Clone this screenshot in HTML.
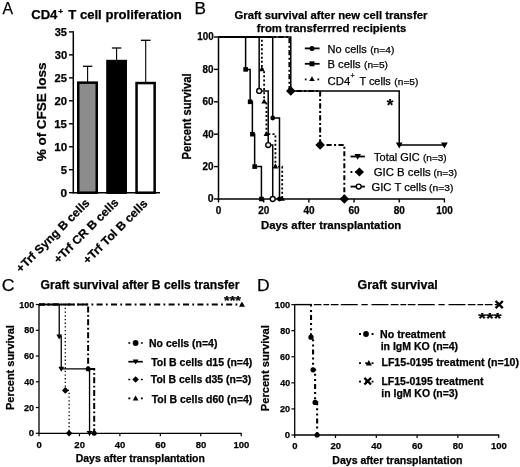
<!DOCTYPE html>
<html><head><meta charset="utf-8"><style>
html,body{margin:0;padding:0;background:#fff;}
svg{display:block;font-family:"Liberation Sans", sans-serif;will-change:transform;}
text{stroke:#000;stroke-width:0.25px;}
</style></head><body>
<svg width="520" height="467" viewBox="0 0 520 467">
<rect width="520" height="467" fill="#fff"/>
<text x="2.52" y="13.95" font-size="17" font-weight="normal" textLength="10.51" lengthAdjust="spacingAndGlyphs">A</text>
<text x="31.18" y="19.30" font-size="12" font-weight="bold" textLength="26.20" lengthAdjust="spacingAndGlyphs">CD4</text>
<text x="58.27" y="13.60" font-size="8" font-weight="bold" textLength="4.86" lengthAdjust="spacingAndGlyphs">+</text>
<text x="68.27" y="19.30" font-size="12" font-weight="bold" textLength="113.56" lengthAdjust="spacingAndGlyphs">T cell proliferation</text>
<line x1="73.30" y1="31.20" x2="73.30" y2="193.40" stroke="#000" stroke-width="1.5" stroke-linecap="butt"/>
<line x1="72.60" y1="192.70" x2="160.00" y2="192.70" stroke="#000" stroke-width="1.5" stroke-linecap="butt"/>
<line x1="69.00" y1="31.90" x2="73.30" y2="31.90" stroke="#000" stroke-width="1.4" stroke-linecap="butt"/>
<text x="54.72" y="35.75" font-size="11" font-weight="bold" textLength="12.28" lengthAdjust="spacingAndGlyphs">35</text>
<line x1="69.00" y1="54.87" x2="73.30" y2="54.87" stroke="#000" stroke-width="1.4" stroke-linecap="butt"/>
<text x="54.72" y="58.72" font-size="11" font-weight="bold" textLength="12.45" lengthAdjust="spacingAndGlyphs">30</text>
<line x1="69.00" y1="77.84" x2="73.30" y2="77.84" stroke="#000" stroke-width="1.4" stroke-linecap="butt"/>
<text x="54.61" y="81.69" font-size="11" font-weight="bold" textLength="12.39" lengthAdjust="spacingAndGlyphs">25</text>
<line x1="69.00" y1="100.81" x2="73.30" y2="100.81" stroke="#000" stroke-width="1.4" stroke-linecap="butt"/>
<text x="54.60" y="104.66" font-size="11" font-weight="bold" textLength="12.57" lengthAdjust="spacingAndGlyphs">20</text>
<line x1="69.00" y1="123.78" x2="73.30" y2="123.78" stroke="#000" stroke-width="1.4" stroke-linecap="butt"/>
<text x="54.25" y="127.63" font-size="11" font-weight="bold" textLength="12.76" lengthAdjust="spacingAndGlyphs">15</text>
<line x1="69.00" y1="146.75" x2="73.30" y2="146.75" stroke="#000" stroke-width="1.4" stroke-linecap="butt"/>
<text x="54.24" y="150.60" font-size="11" font-weight="bold" textLength="12.95" lengthAdjust="spacingAndGlyphs">10</text>
<line x1="69.00" y1="169.72" x2="73.30" y2="169.72" stroke="#000" stroke-width="1.4" stroke-linecap="butt"/>
<text x="60.76" y="173.57" font-size="11" font-weight="bold" textLength="6.23" lengthAdjust="spacingAndGlyphs">5</text>
<line x1="69.00" y1="192.69" x2="73.30" y2="192.69" stroke="#000" stroke-width="1.4" stroke-linecap="butt"/>
<text x="60.63" y="196.54" font-size="11" font-weight="bold" textLength="6.56" lengthAdjust="spacingAndGlyphs">0</text>
<line x1="87.60" y1="66.30" x2="87.60" y2="82.00" stroke="#000" stroke-width="1.1" stroke-linecap="butt"/>
<line x1="82.90" y1="66.30" x2="92.30" y2="66.30" stroke="#000" stroke-width="1.3" stroke-linecap="butt"/>
<line x1="116.60" y1="48.00" x2="116.60" y2="60.00" stroke="#000" stroke-width="1.1" stroke-linecap="butt"/>
<line x1="111.90" y1="48.00" x2="121.30" y2="48.00" stroke="#000" stroke-width="1.3" stroke-linecap="butt"/>
<line x1="145.70" y1="40.30" x2="145.70" y2="82.00" stroke="#000" stroke-width="1.1" stroke-linecap="butt"/>
<line x1="140.90" y1="40.30" x2="150.50" y2="40.30" stroke="#000" stroke-width="1.3" stroke-linecap="butt"/>
<rect x="78.25" y="82.65" width="18.50" height="110.05" fill="#8c8c8c" stroke="#000" stroke-width="2.5"/>
<rect x="107.45" y="61.05" width="18.30" height="131.65" fill="#000" stroke="#000" stroke-width="2.5"/>
<rect x="136.55" y="83.05" width="18.10" height="109.65" fill="#fff" stroke="#000" stroke-width="2.5"/>
<text transform="translate(46.00,161.00) rotate(-90)" x="-0.34" y="0" font-size="13" font-weight="bold" textLength="98.87" lengthAdjust="spacingAndGlyphs">% of CFSE loss</text>
<text transform="translate(21.20,272.80) rotate(-45)" x="-0.49" y="0" font-size="11.8" font-weight="bold" textLength="98.28" lengthAdjust="spacingAndGlyphs">+Trf Syng B cells</text>
<text transform="translate(58.80,263.70) rotate(-45)" x="-0.49" y="0" font-size="11.8" font-weight="bold" textLength="86.12" lengthAdjust="spacingAndGlyphs">+Trf CR B cells</text>
<text transform="translate(87.97,264.53) rotate(-45)" x="-0.49" y="0" font-size="11.8" font-weight="bold" textLength="85.89" lengthAdjust="spacingAndGlyphs">+Trf Tol B cells</text>
<text x="194.42" y="13.80" font-size="17" font-weight="normal" textLength="11.47" lengthAdjust="spacingAndGlyphs">B</text>
<text x="234.55" y="19.30" font-size="11" font-weight="bold" textLength="192.80" lengthAdjust="spacingAndGlyphs">Graft survival after new cell transfer</text>
<text x="256.73" y="32.00" font-size="11" font-weight="bold" textLength="149.54" lengthAdjust="spacingAndGlyphs">from transferrred recipients</text>
<line x1="218.50" y1="36.30" x2="218.50" y2="199.70" stroke="#000" stroke-width="1.5" stroke-linecap="butt"/>
<line x1="217.80" y1="199.00" x2="444.90" y2="199.00" stroke="#000" stroke-width="1.5" stroke-linecap="butt"/>
<line x1="214.00" y1="199.00" x2="218.50" y2="199.00" stroke="#000" stroke-width="1.4" stroke-linecap="butt"/>
<text x="207.78" y="202.40" font-size="10" font-weight="bold" textLength="5.85" lengthAdjust="spacingAndGlyphs">0</text>
<line x1="214.00" y1="166.60" x2="218.50" y2="166.60" stroke="#000" stroke-width="1.4" stroke-linecap="butt"/>
<text x="202.55" y="170.00" font-size="10" font-weight="bold" textLength="11.07" lengthAdjust="spacingAndGlyphs">20</text>
<line x1="214.00" y1="134.20" x2="218.50" y2="134.20" stroke="#000" stroke-width="1.4" stroke-linecap="butt"/>
<text x="202.75" y="137.60" font-size="10" font-weight="bold" textLength="10.86" lengthAdjust="spacingAndGlyphs">40</text>
<line x1="214.00" y1="101.80" x2="218.50" y2="101.80" stroke="#000" stroke-width="1.4" stroke-linecap="butt"/>
<text x="202.55" y="105.20" font-size="10" font-weight="bold" textLength="11.07" lengthAdjust="spacingAndGlyphs">60</text>
<line x1="214.00" y1="69.40" x2="218.50" y2="69.40" stroke="#000" stroke-width="1.4" stroke-linecap="butt"/>
<text x="202.60" y="72.80" font-size="10" font-weight="bold" textLength="11.02" lengthAdjust="spacingAndGlyphs">80</text>
<line x1="214.00" y1="37.00" x2="218.50" y2="37.00" stroke="#000" stroke-width="1.4" stroke-linecap="butt"/>
<text x="197.26" y="40.40" font-size="10" font-weight="bold" textLength="16.36" lengthAdjust="spacingAndGlyphs">100</text>
<line x1="218.50" y1="199.00" x2="218.50" y2="202.50" stroke="#000" stroke-width="1.4" stroke-linecap="butt"/>
<text x="218.60" y="213.70" font-size="10" font-weight="bold" text-anchor="middle">0</text>
<line x1="263.68" y1="199.00" x2="263.68" y2="202.50" stroke="#000" stroke-width="1.4" stroke-linecap="butt"/>
<text x="263.78" y="213.70" font-size="10" font-weight="bold" text-anchor="middle">20</text>
<line x1="308.86" y1="199.00" x2="308.86" y2="202.50" stroke="#000" stroke-width="1.4" stroke-linecap="butt"/>
<text x="308.96" y="213.70" font-size="10" font-weight="bold" text-anchor="middle">40</text>
<line x1="354.04" y1="199.00" x2="354.04" y2="202.50" stroke="#000" stroke-width="1.4" stroke-linecap="butt"/>
<text x="354.14" y="213.70" font-size="10" font-weight="bold" text-anchor="middle">60</text>
<line x1="399.22" y1="199.00" x2="399.22" y2="202.50" stroke="#000" stroke-width="1.4" stroke-linecap="butt"/>
<text x="399.32" y="213.70" font-size="10" font-weight="bold" text-anchor="middle">80</text>
<line x1="444.40" y1="199.00" x2="444.40" y2="202.50" stroke="#000" stroke-width="1.4" stroke-linecap="butt"/>
<text x="444.50" y="213.70" font-size="10" font-weight="bold" text-anchor="middle">100</text>
<text x="260.96" y="229.10" font-size="11" font-weight="bold" textLength="140.34" lengthAdjust="spacingAndGlyphs">Days after transplantation</text>
<text transform="translate(191.40,158.70) rotate(-90)" x="-0.72" y="0" font-size="12" font-weight="bold" textLength="86.02" lengthAdjust="spacingAndGlyphs">Percent survival</text>
<path d="M218.50,37.00H245.61V69.40H250.13V101.80H252.38V134.20H254.64V166.60H261.42V199.00" stroke="#000" stroke-width="1.5" fill="none" stroke-linecap="butt" stroke-linejoin="miter"/>
<rect x="243.31" y="67.10" width="4.60" height="4.60" fill="#000"/>
<rect x="247.83" y="99.50" width="4.60" height="4.60" fill="#000"/>
<rect x="250.08" y="131.90" width="4.60" height="4.60" fill="#000"/>
<rect x="252.34" y="164.30" width="4.60" height="4.60" fill="#000"/>
<rect x="259.12" y="196.70" width="4.60" height="4.60" fill="#000"/>
<path d="M218.50,37.00H259.16V90.95H268.20V145.05H272.72V199.00" stroke="#000" stroke-width="1.5" fill="none" stroke-linecap="butt" stroke-linejoin="miter"/>
<path d="M218.50,37.00H261.87V69.40H264.13V101.80H266.39V134.20H275.43V166.60H282.20V199.00" stroke="#000" stroke-width="1.8" fill="none" stroke-linecap="butt" stroke-linejoin="miter" stroke-dasharray="2,2.2"/>
<path d="M261.87,66.30L264.67,71.20L259.07,71.20Z" fill="#000"/>
<path d="M264.13,98.70L266.93,103.60L261.33,103.60Z" fill="#000"/>
<path d="M266.39,131.10L269.19,136.00L263.59,136.00Z" fill="#000"/>
<path d="M275.43,163.50L278.23,168.40L272.63,168.40Z" fill="#000"/>
<path d="M282.20,195.90L285.00,200.80L279.40,200.80Z" fill="#000"/>
<path d="M218.50,37.00H272.72V118.00H279.49V199.00" stroke="#000" stroke-width="1.5" fill="none" stroke-linecap="butt" stroke-linejoin="miter"/>
<circle cx="272.72" cy="118.00" r="2.40" fill="#000"/>
<circle cx="279.49" cy="199.00" r="2.40" fill="#000"/>
<path d="M218.50,37.00H290.79V90.95H399.22V145.05H444.40" stroke="#000" stroke-width="1.5" fill="none" stroke-linecap="butt" stroke-linejoin="miter"/>
<path d="M399.22,148.45L402.62,142.50L395.82,142.50Z" fill="#000"/>
<path d="M444.40,148.45L447.80,142.50L441.00,142.50Z" fill="#000"/>
<path d="M218.50,37.00H289.43V90.95H320.15V145.05H344.33V199.00" stroke="#000" stroke-width="2.0" fill="none" stroke-linecap="butt" stroke-linejoin="miter" stroke-dasharray="5.2,2.4,2,2.4"/>
<path d="M290.79,86.15L295.59,90.95L290.79,95.75L285.99,90.95Z" fill="#000"/>
<path d="M320.15,140.25L324.95,145.05L320.15,149.85L315.35,145.05Z" fill="#000"/>
<path d="M344.33,194.20L349.13,199.00L344.33,203.80L339.53,199.00Z" fill="#000"/>
<circle cx="259.16" cy="90.95" r="2.45" fill="#fff" stroke="#000" stroke-width="1.4"/>
<circle cx="268.20" cy="145.05" r="2.45" fill="#fff" stroke="#000" stroke-width="1.4"/>
<circle cx="272.72" cy="199.00" r="2.45" fill="#fff" stroke="#000" stroke-width="1.4"/>
<text x="390.00" y="110.50" font-size="17" font-weight="bold" text-anchor="middle">*</text>
<line x1="304.80" y1="48.40" x2="319.60" y2="48.40" stroke="#000" stroke-width="1.8" stroke-linecap="butt"/>
<circle cx="312.00" cy="48.40" r="2.50" fill="#000"/>
<text x="327.62" y="52.80" font-size="11" font-weight="normal" textLength="39.08" lengthAdjust="spacingAndGlyphs">No cells</text>
<text x="370.19" y="52.80" font-size="9.5" font-weight="normal" textLength="24.15" lengthAdjust="spacingAndGlyphs">(n=4)</text>
<line x1="304.80" y1="63.80" x2="319.60" y2="63.80" stroke="#000" stroke-width="1.8" stroke-linecap="butt"/>
<rect x="309.50" y="61.30" width="5.00" height="5.00" fill="#000"/>
<text x="327.50" y="67.90" font-size="11" font-weight="normal" textLength="32.99" lengthAdjust="spacingAndGlyphs">B cells</text>
<text x="364.09" y="67.90" font-size="9.5" font-weight="normal" textLength="23.84" lengthAdjust="spacingAndGlyphs">(n=5)</text>
<line x1="304.80" y1="79.30" x2="319.60" y2="79.30" stroke="#000" stroke-width="1.8" stroke-linecap="butt" stroke-dasharray="1.8,4.5"/>
<path d="M312.00,76.20L314.80,81.10L309.20,81.10Z" fill="#000"/>
<text x="327.53" y="84.70" font-size="11" font-weight="normal" textLength="22.71" lengthAdjust="spacingAndGlyphs">CD4</text>
<text x="350.45" y="78.20" font-size="7.5" font-weight="normal" textLength="4.09" lengthAdjust="spacingAndGlyphs">+</text>
<text x="359.38" y="84.70" font-size="11" font-weight="normal" textLength="31.41" lengthAdjust="spacingAndGlyphs">T cells</text>
<text x="394.39" y="84.70" font-size="9.5" font-weight="normal" textLength="23.94" lengthAdjust="spacingAndGlyphs">(n=5)</text>
<line x1="350.50" y1="156.50" x2="364.90" y2="156.50" stroke="#000" stroke-width="1.8" stroke-linecap="butt"/>
<path d="M357.70,159.75L360.95,154.06L354.45,154.06Z" fill="#000"/>
<text x="374.08" y="160.90" font-size="11" font-weight="normal" textLength="45.69" lengthAdjust="spacingAndGlyphs">Total GIC</text>
<text x="423.00" y="160.90" font-size="9.5" font-weight="normal" textLength="23.73" lengthAdjust="spacingAndGlyphs">(n=3)</text>
<line x1="350.50" y1="172.00" x2="364.90" y2="172.00" stroke="#000" stroke-width="1.8" stroke-linecap="butt" stroke-dasharray="1.8,3"/>
<path d="M359.40,167.40L364.00,172.00L359.40,176.60L354.80,172.00Z" fill="#000"/>
<text x="373.73" y="175.60" font-size="11" font-weight="normal" textLength="56.88" lengthAdjust="spacingAndGlyphs">GIC B cells</text>
<text x="433.40" y="175.60" font-size="9.5" font-weight="normal" textLength="23.73" lengthAdjust="spacingAndGlyphs">(n=3)</text>
<line x1="350.50" y1="186.60" x2="364.90" y2="186.60" stroke="#000" stroke-width="1.8" stroke-linecap="butt"/>
<circle cx="358.70" cy="186.60" r="2.45" fill="#fff" stroke="#000" stroke-width="1.4"/>
<text x="371.54" y="191.10" font-size="11" font-weight="normal" textLength="55.04" lengthAdjust="spacingAndGlyphs">GIC T cells</text>
<text x="429.08" y="191.10" font-size="9.5" font-weight="normal" textLength="24.26" lengthAdjust="spacingAndGlyphs">(n=3)</text>
<text x="1.81" y="291.30" font-size="17" font-weight="normal" textLength="12.84" lengthAdjust="spacingAndGlyphs">C</text>
<text x="40.62" y="288.50" font-size="12" font-weight="bold" textLength="198.78" lengthAdjust="spacingAndGlyphs">Graft survival after B cells transfer</text>
<line x1="39.00" y1="303.90" x2="39.00" y2="433.90" stroke="#000" stroke-width="1.3" stroke-linecap="butt"/>
<line x1="38.40" y1="433.30" x2="241.70" y2="433.30" stroke="#000" stroke-width="1.3" stroke-linecap="butt"/>
<line x1="35.80" y1="433.30" x2="39.00" y2="433.30" stroke="#000" stroke-width="1.2" stroke-linecap="butt"/>
<text x="28.81" y="436.30" font-size="9.5" font-weight="bold" textLength="5.39" lengthAdjust="spacingAndGlyphs">0</text>
<line x1="35.80" y1="407.54" x2="39.00" y2="407.54" stroke="#000" stroke-width="1.2" stroke-linecap="butt"/>
<text x="24.08" y="410.54" font-size="9.5" font-weight="bold" textLength="10.10" lengthAdjust="spacingAndGlyphs">20</text>
<line x1="35.80" y1="381.78" x2="39.00" y2="381.78" stroke="#000" stroke-width="1.2" stroke-linecap="butt"/>
<text x="24.27" y="384.78" font-size="9.5" font-weight="bold" textLength="9.91" lengthAdjust="spacingAndGlyphs">40</text>
<line x1="35.80" y1="356.02" x2="39.00" y2="356.02" stroke="#000" stroke-width="1.2" stroke-linecap="butt"/>
<text x="24.08" y="359.02" font-size="9.5" font-weight="bold" textLength="10.10" lengthAdjust="spacingAndGlyphs">60</text>
<line x1="35.80" y1="330.26" x2="39.00" y2="330.26" stroke="#000" stroke-width="1.2" stroke-linecap="butt"/>
<text x="24.13" y="333.26" font-size="9.5" font-weight="bold" textLength="10.05" lengthAdjust="spacingAndGlyphs">80</text>
<line x1="35.80" y1="304.50" x2="39.00" y2="304.50" stroke="#000" stroke-width="1.2" stroke-linecap="butt"/>
<text x="19.22" y="307.50" font-size="9.5" font-weight="bold" textLength="14.97" lengthAdjust="spacingAndGlyphs">100</text>
<line x1="39.00" y1="433.30" x2="39.00" y2="436.30" stroke="#000" stroke-width="1.2" stroke-linecap="butt"/>
<text x="39.20" y="448.00" font-size="9.5" font-weight="bold" text-anchor="middle">0</text>
<line x1="79.44" y1="433.30" x2="79.44" y2="436.30" stroke="#000" stroke-width="1.2" stroke-linecap="butt"/>
<text x="79.64" y="448.00" font-size="9.5" font-weight="bold" text-anchor="middle">20</text>
<line x1="119.88" y1="433.30" x2="119.88" y2="436.30" stroke="#000" stroke-width="1.2" stroke-linecap="butt"/>
<text x="120.08" y="448.00" font-size="9.5" font-weight="bold" text-anchor="middle">40</text>
<line x1="160.32" y1="433.30" x2="160.32" y2="436.30" stroke="#000" stroke-width="1.2" stroke-linecap="butt"/>
<text x="160.52" y="448.00" font-size="9.5" font-weight="bold" text-anchor="middle">60</text>
<line x1="200.76" y1="433.30" x2="200.76" y2="436.30" stroke="#000" stroke-width="1.2" stroke-linecap="butt"/>
<text x="200.96" y="448.00" font-size="9.5" font-weight="bold" text-anchor="middle">80</text>
<line x1="241.20" y1="433.30" x2="241.20" y2="436.30" stroke="#000" stroke-width="1.2" stroke-linecap="butt"/>
<text x="241.40" y="448.00" font-size="9.5" font-weight="bold" text-anchor="middle">100</text>
<text x="75.72" y="461.60" font-size="10" font-weight="bold" textLength="129.13" lengthAdjust="spacingAndGlyphs">Days after transplantation</text>
<text transform="translate(14.00,409.30) rotate(-90)" x="-0.71" y="0" font-size="11.5" font-weight="bold" textLength="84.80" lengthAdjust="spacingAndGlyphs">Percent survival</text>
<path d="M39.00,304.50H241.20" stroke="#000" stroke-width="1.8" fill="none" stroke-linecap="butt" stroke-linejoin="miter" stroke-dasharray="6,3.3,1.8,3.3"/>
<path d="M242.00,301.60L244.90,306.68L239.10,306.68Z" fill="#000"/>
<text x="224.03" y="305.00" font-size="12" font-weight="bold" textLength="16.91" lengthAdjust="spacingAndGlyphs">***</text>
<path d="M39.00,304.50H88.13V368.90H94.20V433.30" stroke="#000" stroke-width="2.0" fill="none" stroke-linecap="butt" stroke-linejoin="miter" stroke-dasharray="6,2.5,1.8,2.5"/>
<line x1="39.00" y1="304.50" x2="65.89" y2="304.50" stroke="#000" stroke-width="1.3" stroke-linecap="butt"/>
<circle cx="88.13" cy="368.90" r="2.50" fill="#000"/>
<circle cx="94.20" cy="433.30" r="2.50" fill="#000"/>
<path d="M39.00,304.50H65.29V390.41H69.13V433.30" stroke="#000" stroke-width="1.3" fill="none" stroke-linecap="butt" stroke-linejoin="miter" stroke-dasharray="1.3,2.4"/>
<path d="M65.29,387.11L68.59,390.41L65.29,393.71L61.99,390.41Z" fill="#000"/>
<path d="M69.13,430.00L72.43,433.30L69.13,436.60L65.83,433.30Z" fill="#000"/>
<path d="M39.00,304.50H59.22V336.70H61.24V368.90H89.55V433.30" stroke="#000" stroke-width="1.3" fill="none" stroke-linecap="butt" stroke-linejoin="miter"/>
<path d="M59.22,339.60L62.12,334.52L56.32,334.52Z" fill="#000"/>
<path d="M61.24,371.80L64.14,366.72L58.34,366.72Z" fill="#000"/>
<path d="M89.55,436.20L92.45,431.12L86.65,431.12Z" fill="#000"/>
<line x1="128.30" y1="343.00" x2="142.80" y2="343.00" stroke="#000" stroke-width="1.7" stroke-linecap="butt" stroke-dasharray="2,4.3"/>
<circle cx="135.60" cy="343.00" r="2.90" fill="#000"/>
<text x="149.02" y="346.80" font-size="10" font-weight="bold" textLength="68.40" lengthAdjust="spacingAndGlyphs">No cells (n=4)</text>
<line x1="128.30" y1="361.70" x2="142.80" y2="361.70" stroke="#000" stroke-width="1.7" stroke-linecap="butt"/>
<path d="M135.60,364.60L138.50,359.52L132.70,359.52Z" fill="#000"/>
<text x="151.19" y="365.70" font-size="10" font-weight="bold" textLength="101.11" lengthAdjust="spacingAndGlyphs">Tol B cells d15 (n=4)</text>
<line x1="128.30" y1="379.50" x2="142.80" y2="379.50" stroke="#000" stroke-width="1.7" stroke-linecap="butt" stroke-dasharray="2,4.3"/>
<path d="M135.60,376.20L138.90,379.50L135.60,382.80L132.30,379.50Z" fill="#000"/>
<text x="150.80" y="383.20" font-size="10" font-weight="bold" textLength="100.51" lengthAdjust="spacingAndGlyphs">Tol B cells d35 (n=3)</text>
<line x1="128.30" y1="398.40" x2="142.80" y2="398.40" stroke="#000" stroke-width="1.7" stroke-linecap="butt" stroke-dasharray="2,4.3"/>
<path d="M135.60,395.50L138.50,400.57L132.70,400.57Z" fill="#000"/>
<text x="151.70" y="403.00" font-size="10" font-weight="bold" textLength="100.61" lengthAdjust="spacingAndGlyphs">Tol B cells d60 (n=4)</text>
<text x="257.10" y="291.20" font-size="17" font-weight="normal" textLength="12.62" lengthAdjust="spacingAndGlyphs">D</text>
<text x="357.50" y="288.50" font-size="12" font-weight="bold" textLength="80.30" lengthAdjust="spacingAndGlyphs">Graft survival</text>
<line x1="294.70" y1="304.00" x2="294.70" y2="435.60" stroke="#000" stroke-width="1.3" stroke-linecap="butt"/>
<line x1="294.10" y1="435.00" x2="499.20" y2="435.00" stroke="#000" stroke-width="1.3" stroke-linecap="butt"/>
<line x1="291.40" y1="435.00" x2="294.70" y2="435.00" stroke="#000" stroke-width="1.2" stroke-linecap="butt"/>
<text x="284.81" y="438.00" font-size="9.5" font-weight="bold" textLength="5.39" lengthAdjust="spacingAndGlyphs">0</text>
<line x1="291.40" y1="408.92" x2="294.70" y2="408.92" stroke="#000" stroke-width="1.2" stroke-linecap="butt"/>
<text x="280.08" y="411.92" font-size="9.5" font-weight="bold" textLength="10.10" lengthAdjust="spacingAndGlyphs">20</text>
<line x1="291.40" y1="382.84" x2="294.70" y2="382.84" stroke="#000" stroke-width="1.2" stroke-linecap="butt"/>
<text x="280.27" y="385.84" font-size="9.5" font-weight="bold" textLength="9.91" lengthAdjust="spacingAndGlyphs">40</text>
<line x1="291.40" y1="356.76" x2="294.70" y2="356.76" stroke="#000" stroke-width="1.2" stroke-linecap="butt"/>
<text x="280.08" y="359.76" font-size="9.5" font-weight="bold" textLength="10.10" lengthAdjust="spacingAndGlyphs">60</text>
<line x1="291.40" y1="330.68" x2="294.70" y2="330.68" stroke="#000" stroke-width="1.2" stroke-linecap="butt"/>
<text x="280.13" y="333.68" font-size="9.5" font-weight="bold" textLength="10.05" lengthAdjust="spacingAndGlyphs">80</text>
<line x1="291.40" y1="304.60" x2="294.70" y2="304.60" stroke="#000" stroke-width="1.2" stroke-linecap="butt"/>
<text x="274.80" y="307.60" font-size="9.5" font-weight="bold" textLength="15.40" lengthAdjust="spacingAndGlyphs">100</text>
<line x1="294.70" y1="435.00" x2="294.70" y2="438.00" stroke="#000" stroke-width="1.2" stroke-linecap="butt"/>
<text x="294.90" y="449.10" font-size="9.5" font-weight="bold" text-anchor="middle">0</text>
<line x1="335.50" y1="435.00" x2="335.50" y2="438.00" stroke="#000" stroke-width="1.2" stroke-linecap="butt"/>
<text x="335.70" y="449.10" font-size="9.5" font-weight="bold" text-anchor="middle">20</text>
<line x1="376.30" y1="435.00" x2="376.30" y2="438.00" stroke="#000" stroke-width="1.2" stroke-linecap="butt"/>
<text x="376.50" y="449.10" font-size="9.5" font-weight="bold" text-anchor="middle">40</text>
<line x1="417.10" y1="435.00" x2="417.10" y2="438.00" stroke="#000" stroke-width="1.2" stroke-linecap="butt"/>
<text x="417.30" y="449.10" font-size="9.5" font-weight="bold" text-anchor="middle">60</text>
<line x1="457.90" y1="435.00" x2="457.90" y2="438.00" stroke="#000" stroke-width="1.2" stroke-linecap="butt"/>
<text x="458.10" y="449.10" font-size="9.5" font-weight="bold" text-anchor="middle">80</text>
<line x1="498.70" y1="435.00" x2="498.70" y2="438.00" stroke="#000" stroke-width="1.2" stroke-linecap="butt"/>
<text x="498.90" y="449.10" font-size="9.5" font-weight="bold" text-anchor="middle">100</text>
<text x="332.31" y="464.30" font-size="10" font-weight="bold" textLength="130.24" lengthAdjust="spacingAndGlyphs">Days after transplantation</text>
<text transform="translate(268.60,410.50) rotate(-90)" x="-0.72" y="0" font-size="11.5" font-weight="bold" textLength="86.02" lengthAdjust="spacingAndGlyphs">Percent survival</text>
<path d="M294.7,304.6H312" stroke="#000" stroke-width="1.4" fill="none" stroke-linecap="butt" stroke-linejoin="miter"/>
<path d="M313.8,304.6H498.7" stroke="#000" stroke-width="1.4" fill="none" stroke-linecap="butt" stroke-linejoin="miter" stroke-dasharray="7.7,1.9,5.8,1.6,7.7,2.3,16.9,3.8,6.2,3.8,17,2.3"/>
<path d="M495.60,301.00L502.80,308.20M502.80,301.00L495.60,308.20" stroke="#000" stroke-width="2.4" fill="none"/>
<text x="478.20" y="323.00" font-size="15" font-weight="bold" textLength="23.35" lengthAdjust="spacingAndGlyphs">***</text>
<path d="M311.02,304.60H311.02V337.20H313.06V369.80H315.10V402.40H317.14V435.00" stroke="#000" stroke-width="2.1" fill="none" stroke-linecap="butt" stroke-linejoin="miter" stroke-dasharray="2,3.3,2,3,5,3"/>
<circle cx="311.02" cy="337.20" r="2.60" fill="#000"/>
<circle cx="313.06" cy="369.80" r="2.60" fill="#000"/>
<circle cx="315.10" cy="402.40" r="2.60" fill="#000"/>
<circle cx="317.14" cy="435.00" r="2.60" fill="#000"/>
<line x1="359.00" y1="334.00" x2="373.50" y2="334.00" stroke="#000" stroke-width="1.8" stroke-linecap="butt" stroke-dasharray="2,4.3"/>
<circle cx="366.00" cy="334.00" r="2.90" fill="#000"/>
<text x="380.11" y="337.70" font-size="10" font-weight="bold" textLength="65.53" lengthAdjust="spacingAndGlyphs">No treatment</text>
<text x="380.66" y="350.00" font-size="10" font-weight="bold" textLength="77.42" lengthAdjust="spacingAndGlyphs">in IgM KO (n=4)</text>
<line x1="359.00" y1="363.10" x2="373.50" y2="363.10" stroke="#000" stroke-width="1.8" stroke-linecap="butt" stroke-dasharray="2,4.3"/>
<path d="M368.80,360.00L371.90,365.43L365.70,365.43Z" fill="#000"/>
<text x="381.41" y="366.30" font-size="10" font-weight="bold" textLength="137.59" lengthAdjust="spacingAndGlyphs">LF15-0195 treatment (n=10)</text>
<line x1="359.00" y1="381.70" x2="373.50" y2="381.70" stroke="#000" stroke-width="1.8" stroke-linecap="butt" stroke-dasharray="2,4.3"/>
<path d="M364.40,377.90L371.00,384.50M371.00,377.90L364.40,384.50" stroke="#000" stroke-width="2.3" fill="none"/>
<text x="381.42" y="384.90" font-size="10" font-weight="bold" textLength="102.10" lengthAdjust="spacingAndGlyphs">LF15-0195 treatment</text>
<text x="381.37" y="396.90" font-size="10" font-weight="bold" textLength="76.71" lengthAdjust="spacingAndGlyphs">in IgM KO (n=3)</text>
</svg>
</body></html>
